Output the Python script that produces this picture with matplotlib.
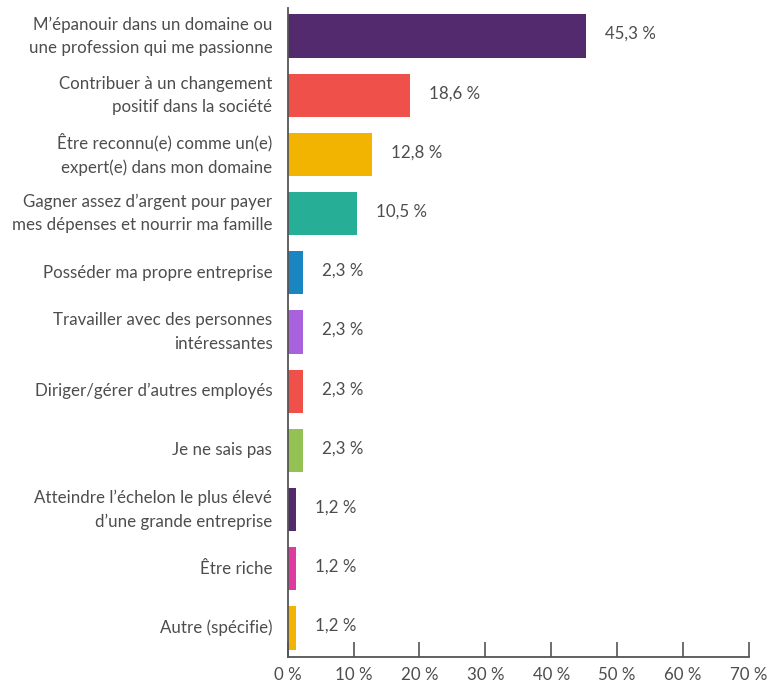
import matplotlib
matplotlib.use("Agg")
import matplotlib.pyplot as plt
from matplotlib.ticker import FuncFormatter

categories = [
    "M\u2019épanouir dans un domaine ou\nune profession qui me passionne",
    "Contribuer à un changement\npositif dans la société",
    "Être reconnu(e) comme un(e)\nexpert(e) dans mon domaine",
    "Gagner assez d\u2019argent pour payer\nmes dépenses et nourrir ma famille",
    "Posséder ma propre entreprise",
    "Travailler avec des personnes\nintéressantes",
    "Diriger/gérer d\u2019autres employés",
    "Je ne sais pas",
    "Atteindre l\u2019échelon le plus élevé\nd\u2019une grande entreprise",
    "Être riche",
    "Autre (spécifie)",
]
values = [45.3, 18.6, 12.8, 10.5, 2.3, 2.3, 2.3, 2.3, 1.2, 1.2, 1.2]
colors = ["#532a6e", "#f0504a", "#f2b400", "#26ae96", "#1a85c0", "#a862de",
          "#f0504a", "#93c154", "#532a6e", "#de3a9f", "#f2b400"]
xticks = [0, 10, 20, 30, 40, 50, 60, 70]

plt.rcParams["font.family"] = ["Lato", "DejaVu Sans"]
text_color = "#4d4d4d"
axis_color = "#555555"
fsize = 12.2

fig = plt.figure(figsize=(7.69, 6.84), dpi=100)
ax = fig.add_axes([0.374, 0.0395, 0.6, 0.9485])

y = list(range(len(values)))
ax.barh(y, values, height=0.73, color=colors)

for yi, v in zip(y, values):
    ax.annotate(f"{v:.1f} %".replace(".", ","), (v, yi), xytext=(19, 2),
                textcoords="offset pixels", va="center", ha="left",
                fontsize=fsize, color=text_color)

ax.set_xlim(0, 70)
ax.set_ylim(10.49, -0.47)
ax.set_xticks(xticks)
ax.xaxis.set_major_formatter(FuncFormatter(lambda v, p: f"{v:.0f} %"))
ax.set_yticks(y)
ax.set_yticklabels(categories, fontsize=fsize, color=text_color,
                   linespacing=1.55)
# center multi-line labels on their bars
for lbl in ax.get_yticklabels():
    lbl.set_verticalalignment("center")
ax.tick_params(axis="y", length=0, pad=11)
ax.tick_params(axis="x", direction="in", length=11, width=1.2,
               color=axis_color, labelsize=fsize, labelcolor=text_color, pad=7)

for s in ["top", "right"]:
    ax.spines[s].set_visible(False)
for s in ["left", "bottom"]:
    ax.spines[s].set_color(axis_color)
    ax.spines[s].set_linewidth(1.3)

fig.savefig("out.png", dpi=100)
